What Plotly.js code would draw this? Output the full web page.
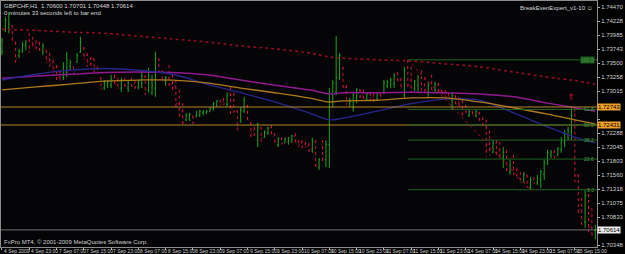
<!DOCTYPE html>
<html><head><meta charset="utf-8">
<script src="https://cdn.plot.ly/plotly-3.0.1.min.js"></script>
<style>html,body{margin:0;padding:0;background:#000;}#chart{width:625px;height:254px;}</style>
</head><body><div id="chart"></div>
<script>
// ---- DATA (GBPCHF H1) ----
const open = [1.7370,1.7408,1.7411,1.7415,1.7387,1.7363,1.7371,1.7380,1.7390,1.7387,
1.7383,1.7382,1.7370,1.7373,1.7359,1.7351,1.7342,1.7335,1.7325,1.7335,
1.7345,1.7344,1.7352,1.7370,1.7377,1.7364,1.7357,1.7356,1.7342,1.7325,
1.7307,1.7311,1.7312,1.7325,1.7318,1.7307,1.7321,1.7307,1.7321,1.7314,
1.7309,1.7314,1.7326,1.7304,1.7299,1.7307,1.7356,1.7335,1.7318,1.7325,
1.7314,1.7311,1.7280,1.7266,1.7252,1.7255,1.7259,1.7257,1.7260,1.7264,
1.7264,1.7266,1.7271,1.7276,1.7285,1.7283,1.7278,1.7295,1.7286,1.7267,
1.7248,1.7267,1.7276,1.7247,1.7234,1.7217,1.7238,1.7222,1.7229,1.7238,
1.7226,1.7209,1.7219,1.7212,1.7214,1.7217,1.7224,1.7215,1.7212,1.7210,
1.7207,1.7200,1.7214,1.7170,1.7209,1.7183,1.7209,1.7297,1.7300,1.7325,
1.7342,1.7309,1.7283,1.7273,1.7290,1.7304,1.7297,1.7288,1.7297,1.7292,
1.7286,1.7295,1.7299,1.7311,1.7312,1.7314,1.7330,1.7321,1.7295,1.7342,
1.7321,1.7307,1.7312,1.7325,1.7311,1.7300,1.7314,1.7304,1.7312,1.7302,
1.7297,1.7293,1.7286,1.7293,1.7283,1.7276,1.7269,1.7259,1.7266,1.7259,
1.7264,1.7252,1.7243,1.7217,1.7196,1.7212,1.7198,1.7186,1.7196,1.7162,
1.7172,1.7165,1.7151,1.7144,1.7155,1.7136,1.7148,1.7143,1.7148,1.7158,
1.7177,1.7191,1.7196,1.7191,1.7200,1.7214,1.7226,1.7231,1.7266,1.7155,
1.7096,1.7075,1.7122,1.7065,1.7060];
const high = [1.7394,1.7430,1.7439,1.7416,1.7387,1.7375,1.7387,1.7390,1.7402,1.7396,
1.7390,1.7387,1.7385,1.7373,1.7368,1.7356,1.7347,1.7338,1.7352,1.7370,
1.7356,1.7344,1.7368,1.7396,1.7378,1.7368,1.7361,1.7359,1.7344,1.7326,
1.7321,1.7321,1.7330,1.7330,1.7325,1.7325,1.7325,1.7321,1.7325,1.7321,
1.7321,1.7335,1.7330,1.7342,1.7330,1.7370,1.7359,1.7338,1.7328,1.7347,
1.7330,1.7321,1.7304,1.7281,1.7264,1.7264,1.7259,1.7267,1.7269,1.7269,
1.7269,1.7274,1.7283,1.7286,1.7286,1.7290,1.7299,1.7309,1.7299,1.7269,
1.7274,1.7292,1.7278,1.7248,1.7240,1.7247,1.7240,1.7234,1.7240,1.7243,
1.7229,1.7222,1.7222,1.7221,1.7222,1.7226,1.7229,1.7217,1.7217,1.7214,
1.7212,1.7221,1.7217,1.7186,1.7217,1.7217,1.7307,1.7321,1.7397,1.7368,
1.7344,1.7312,1.7290,1.7300,1.7307,1.7305,1.7304,1.7299,1.7299,1.7299,
1.7299,1.7299,1.7321,1.7321,1.7325,1.7333,1.7335,1.7325,1.7344,1.7356,
1.7344,1.7321,1.7330,1.7338,1.7326,1.7318,1.7330,1.7318,1.7316,1.7304,
1.7304,1.7299,1.7299,1.7295,1.7292,1.7286,1.7278,1.7269,1.7267,1.7269,
1.7266,1.7257,1.7252,1.7234,1.7217,1.7217,1.7214,1.7205,1.7200,1.7183,
1.7191,1.7169,1.7162,1.7162,1.7157,1.7153,1.7153,1.7157,1.7165,1.7183,
1.7200,1.7200,1.7200,1.7205,1.7222,1.7234,1.7240,1.7274,1.7273,1.7158,
1.7117,1.7131,1.7134,1.7099,1.70701];
const low = [1.7364,1.7404,1.7402,1.7385,1.7351,1.7359,1.7368,1.7373,1.7368,1.7377,
1.7373,1.7370,1.7364,1.7351,1.7344,1.7333,1.7318,1.7318,1.7321,1.7326,
1.7338,1.7330,1.7351,1.7368,1.7356,1.7344,1.7342,1.7335,1.7333,1.7304,
1.7304,1.7307,1.7307,1.7309,1.7304,1.7300,1.7307,1.7300,1.7307,1.7305,
1.7305,1.7307,1.7295,1.7299,1.7295,1.7292,1.7330,1.7318,1.7311,1.7309,
1.7304,1.7274,1.7255,1.7243,1.7250,1.7250,1.7245,1.7257,1.7257,1.7260,
1.7262,1.7266,1.7269,1.7274,1.7274,1.7278,1.7274,1.7260,1.7264,1.7234,
1.7247,1.7264,1.7247,1.7221,1.7222,1.7205,1.7214,1.7221,1.7226,1.7222,
1.7209,1.7205,1.7209,1.7212,1.7209,1.7212,1.7209,1.7205,1.7203,1.7203,
1.7196,1.7195,1.7165,1.7165,1.7177,1.7170,1.7169,1.7273,1.7295,1.7321,
1.7304,1.7278,1.7274,1.7266,1.7281,1.7290,1.7286,1.7286,1.7286,1.7283,
1.7285,1.7288,1.7297,1.7307,1.7307,1.7307,1.7316,1.7304,1.7290,1.7304,
1.7300,1.7302,1.7300,1.7300,1.7300,1.7292,1.7300,1.7299,1.7299,1.7293,
1.7292,1.7288,1.7269,1.7274,1.7273,1.7257,1.7264,1.7257,1.7257,1.7257,
1.7248,1.7240,1.7188,1.7191,1.7195,1.7191,1.7183,1.7169,1.7160,1.7157,
1.7157,1.7148,1.7141,1.7143,1.7134,1.7131,1.7141,1.7139,1.7134,1.7148,
1.7174,1.7186,1.7186,1.7189,1.7195,1.7205,1.7217,1.7217,1.7144,1.7087,
1.7070,1.7065,1.7058,1.7047,1.70448];
const close = [1.7390,1.7425,1.7418,1.7390,1.7359,1.7371,1.7382,1.7387,1.7375,1.7380,
1.7378,1.7373,1.7380,1.7356,1.7349,1.7338,1.7325,1.7321,1.7345,1.7356,
1.7352,1.7335,1.7363,1.7387,1.7361,1.7351,1.7349,1.7342,1.7335,1.7307,
1.7316,1.7318,1.7323,1.7314,1.7307,1.7321,1.7311,1.7316,1.7311,1.7309,
1.7318,1.7328,1.7304,1.7335,1.7312,1.7359,1.7335,1.7321,1.7325,1.7314,
1.7307,1.7280,1.7260,1.7248,1.7260,1.7262,1.7248,1.7266,1.7267,1.7267,
1.7267,1.7273,1.7280,1.7285,1.7278,1.7280,1.7295,1.7273,1.7267,1.7240,
1.7269,1.7286,1.7252,1.7229,1.7226,1.7238,1.7221,1.7231,1.7238,1.7228,
1.7214,1.7219,1.7212,1.7219,1.7221,1.7224,1.7214,1.7209,1.7207,1.7205,
1.7200,1.7215,1.7174,1.7183,1.7186,1.7209,1.7300,1.7316,1.7325,1.7363,
1.7309,1.7283,1.7286,1.7295,1.7304,1.7293,1.7290,1.7297,1.7290,1.7286,
1.7295,1.7292,1.7316,1.7318,1.7321,1.7328,1.7321,1.7309,1.7338,1.7312,
1.7307,1.7318,1.7325,1.7307,1.7304,1.7312,1.7304,1.7314,1.7302,1.7297,
1.7293,1.7290,1.7295,1.7280,1.7276,1.7262,1.7266,1.7267,1.7260,1.7266,
1.7252,1.7243,1.7200,1.7200,1.7212,1.7196,1.7186,1.7196,1.7165,1.7172,
1.7162,1.7151,1.7144,1.7157,1.7137,1.7148,1.7143,1.7151,1.7162,1.7177,
1.7195,1.7196,1.7189,1.7202,1.7217,1.7229,1.7234,1.7260,1.7155,1.7096,
1.7079,1.7122,1.7065,1.7053,1.70614];

// Moving averages (sampled at bar indices)
const maIdx = [0,10,20,30,40,50,60,70,80,90,96,100,110,120,130,140,150,160,168,174];
const maMaroon = [1.7409,1.7407,1.7404,1.7402,1.7397,1.7392,1.7387,1.7380,1.7375,1.7368,1.7361,1.7359,1.7356,1.7354,1.7349,1.7344,1.7335,1.7326,1.7320,1.7314];
const maPurple = [1.7324,1.7328,1.7331,1.7334,1.7335,1.7334,1.7330,1.7321,1.7312,1.7304,1.7297,1.7299,1.7299,1.7300,1.7299,1.7297,1.7292,1.7281,1.7273,1.7267];
const maBlue   = [1.7321,1.7331,1.7338,1.7341,1.7338,1.7331,1.7314,1.7299,1.7283,1.7264,1.7252,1.7255,1.7267,1.7280,1.7288,1.7286,1.7264,1.7240,1.7222,1.7212];
const maOrange = [1.7304,1.7309,1.7314,1.7319,1.7321,1.7321,1.7316,1.7307,1.7299,1.7290,1.7283,1.7285,1.7286,1.7290,1.7290,1.7283,1.7273,1.7262,1.7252,1.7245];

// Time axis labels
const timeIdx = [0,8,16,24,32,40,48,56,64,72,80,88,96,104,112,120,128,136,144,152,160,168];
const timeText = ['4 Sep 2009','4 Sep 23:00','7 Sep 07:00','7 Sep 15:00','7 Sep 23:00','8 Sep 07:00','8 Sep 15:00','8 Sep 23:00','9 Sep 07:00','9 Sep 15:00','9 Sep 23:00','10 Sep 07:00','10 Sep 15:00','10 Sep 23:00','11 Sep 07:00','11 Sep 15:00','11 Sep 23:00','14 Sep 07:00','14 Sep 15:00','14 Sep 23:00','15 Sep 07:00','15 Sep 15:00'];

// Price axis labels
const yTicks = [1.74470,1.74228,1.73985,1.73743,1.73500,1.73258,1.73015,1.72773,1.72530,1.72288,1.72045,1.71803,1.71560,1.71318,1.71075,1.70833,1.70590,1.70348];

// Horizontal lines
const orangeLines = [1.72743, 1.72431];
const bidPrice = 1.70614;

// Fibonacci
const fibStartIdx = 119, fibEndIdx = 155;
const fibHigh = 1.7356, fibLow = 1.7131;
const fibLevels = [0, 23.6, 38.2, 50.0, 61.8, 100.0];

// Arrow signal
const arrowIdx = 167, arrowPrice = 1.7292;

// ---- CHART ----
const xs = open.map((_, i) => i);
const xRange = [-0.29, 174.49];
const F = 'Liberation Sans, Arial, sans-serif';
const FN = 'Liberation Sans Narrow, Arial Narrow, Liberation Sans, sans-serif';

const traces = [
  {type:'ohlc', x:xs, open:open, high:high, low:low, close:close, tickwidth:0.3,
   increasing:{line:{color:'#1fa31f', width:1}},
   decreasing:{line:{color:'#d4143c', width:1, dash:'dot'}},
   hoverinfo:'skip', showlegend:false},
  {type:'scatter', mode:'lines', x:maIdx, y:maMaroon, line:{color:'#8a0f22', width:1.6, dash:'dot', shape:'spline'}, hoverinfo:'skip'},
  {type:'scatter', mode:'lines', x:maIdx, y:maPurple, line:{color:'#8e1a8e', width:1.5, shape:'spline'}, hoverinfo:'skip'},
  {type:'scatter', mode:'lines', x:maIdx, y:maBlue, line:{color:'#26268c', width:1.3, shape:'spline'}, hoverinfo:'skip'},
  {type:'scatter', mode:'lines', x:maIdx, y:maOrange, line:{color:'#b07a1c', width:1.3, shape:'spline'}, hoverinfo:'skip'}
];

const shapes = [];
orangeLines.forEach(p => shapes.push({type:'line', xref:'paper', x0:0, x1:1, yref:'y', y0:p, y1:p, line:{color:'#b8862a', width:1}}));
shapes.push({type:'line', xref:'paper', x0:0, x1:1, yref:'y', y0:bidPrice, y1:bidPrice, line:{color:'#707070', width:1}});
fibLevels.forEach(l => {
  const p = fibLow + (fibHigh - fibLow) * l / 100;
  shapes.push({type:'line', xref:'x', x0:fibStartIdx, x1:xRange[1], yref:'y', y0:p, y1:p, line:{color:'#1f621f', width:1}});
});
shapes.push({type:'line', xref:'x', x0:fibStartIdx, x1:fibEndIdx, yref:'y', y0:fibHigh, y1:fibLow, line:{color:'#a01028', width:1, dash:'dot'}});

const annotations = [];
timeIdx.forEach((ix, k) => annotations.push({xref:'x', x:ix, yref:'paper', y:0, xanchor:'left', yanchor:'top', yshift:0, xshift:1,
  text:timeText[k], showarrow:false, borderpad:0, font:{family:FN, size:5, color:'#d0d0d0'}}));
orangeLines.forEach(p => annotations.push({xref:'paper', x:1, xanchor:'left', xshift:0, yref:'y', y:p, yanchor:'middle',
  text:p.toFixed(5), showarrow:false, bgcolor:'#f0a028', borderpad:0, font:{family:F, size:6, color:'#000'}}));
annotations.push({xref:'paper', x:1, xanchor:'left', xshift:0, yref:'y', y:bidPrice, yanchor:'middle',
  text:close[close.length-1].toFixed(5), showarrow:false, bgcolor:'#eeeeee', borderpad:0, font:{family:F, size:6, color:'#000'}});
fibLevels.forEach(l => {
  const p = fibLow + (fibHigh - fibLow) * l / 100;
  annotations.push({xref:'paper', x:1, xanchor:'right', xshift:-2, yref:'y', y:p, yanchor:'middle',
    text:l.toFixed(1), showarrow:false, bgcolor: l===100 ? '#1f5f1f' : 'rgba(0,0,0,0)', borderpad:0, font:{family:F, size:5, color:'#4a9e4a'}});
});
annotations.push({xref:'x', x:arrowIdx, yref:'y', y:arrowPrice, text:'⇑', showarrow:false, font:{family:'DejaVu Sans', size:9, color:'#c8102e'}});
const N = open.length;
annotations.push({xref:'paper', x:0, xanchor:'left', xshift:2, yref:'paper', y:1, yanchor:'top', yshift:-1,
  text:'GBPCHF,H1  ' + open[N-1].toFixed(5) + ' ' + high[N-1].toFixed(5) + ' ' + low[N-1].toFixed(5) + ' ' + close[N-1].toFixed(5),
  showarrow:false, borderpad:0, font:{family:F, size:6, color:'#d8d8d8'}});
annotations.push({xref:'paper', x:0, xanchor:'left', xshift:2, yref:'paper', y:1, yanchor:'top', yshift:-8,
  text:'0 minutes 33 seconds left to bar end', showarrow:false, borderpad:0, font:{family:F, size:6, color:'#d8d8d8'}});
annotations.push({xref:'paper', x:1, xanchor:'right', xshift:-3, yref:'paper', y:1, yanchor:'top', yshift:-3,
  text:'BreakEvenExpert_v1-10 ☺', showarrow:false, borderpad:0, font:{family:F, size:6, color:'#d8d8d8'}});
annotations.push({xref:'paper', x:0, xanchor:'left', xshift:2, yref:'paper', y:0, yanchor:'bottom', yshift:1,
  text:'FxPro MT4, © 2001-2009 MetaQuotes Software Corp.', showarrow:false, borderpad:0, font:{family:F, size:6, color:'#d0d0d0'}});

// price labels hidden behind the highlighted boxes (as in the reference)
const boxed = orangeLines.concat([bidPrice]);
const yTickText = yTicks.map(v => boxed.some(b => Math.abs(b - v) < 0.0011) ? '' : v.toFixed(5));

const layout = {
  width:625, height:254, margin:{l:1, r:28, t:1, b:7, pad:0},
  paper_bgcolor:'#000000', plot_bgcolor:'#050507', showlegend:false,
  font:{family:F, size:6, color:'#d0d0d0'},
  xaxis:{range:xRange, showgrid:false, zeroline:false, showline:true, linecolor:'#8c8c8c', linewidth:1, mirror:true,
    tickmode:'array', tickvals:timeIdx, ticks:'outside', ticklen:2, tickcolor:'#b0b0b0', showticklabels:false,
    rangeslider:{visible:false}, fixedrange:true, automargin:false},
  yaxis:{range:[1.70318, 1.74579], side:'right', showgrid:false, zeroline:false, showline:true, linecolor:'#8c8c8c', linewidth:1, mirror:true,
    tickmode:'array', tickvals:yTicks, ticktext:yTickText, ticks:'outside', ticklen:2, tickcolor:'#b0b0b0',
    tickfont:{family:F, size:6, color:'#d0d0d0'}, fixedrange:true, automargin:false},
  shapes:shapes, annotations:annotations
};
Plotly.newPlot('chart', traces, layout, {staticPlot:true, displayModeBar:false});
</script>
</body></html>
